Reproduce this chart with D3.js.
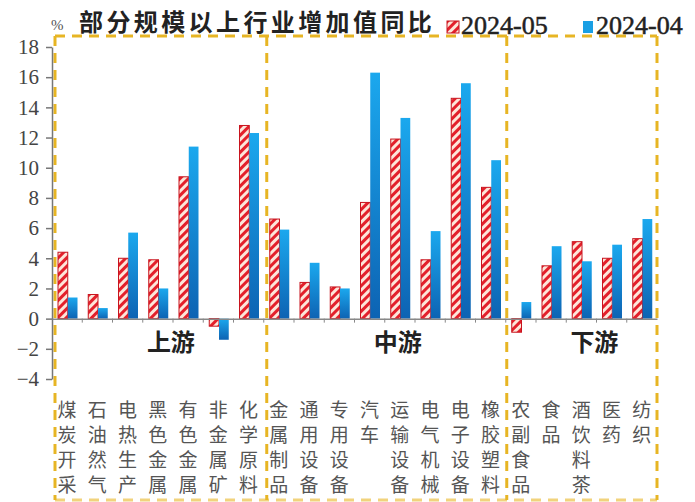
<!DOCTYPE html>
<html>
<head>
<meta charset="utf-8">
<script src="https://cdn.jsdelivr.net/npm/d3@7"></script>
<style>
  html, body { margin: 0; padding: 0; background: #fff; }
  svg { display: block; }
</style>
</head>
<body>
<svg id="chart" width="695" height="502"></svg>
<script>
// Industry names (one character per row when drawn)
const categories = [
  "煤炭开采", "石油天然气", "电热生产", "黑色金属", "有色金属", "非金属矿", "化学原料",
  "金属制品", "通用设备", "专用设备", "汽车", "运输设备", "电气机械", "电子设备", "橡胶塑料",
  "农副食品", "食品", "酒饮料茶", "医药", "纺织"
];
// Short column labels as printed under each industry
const labels = [
  "煤炭开采", "石油然气", "电热生产", "黑色金属", "有色金属", "非金属矿", "化学原料",
  "金属制品", "通用设备", "专用设备", "汽车", "运输设备", "电气机械", "电子设备", "橡胶塑料",
  "农副食品", "食品", "酒饮料茶", "医药", "纺织"
];
const seriesNames = ["2024-05", "2024-04"];
const may = [4.4, 1.6, 4.0, 3.9, 9.4, -0.5, 12.8,
             6.6, 2.4, 2.1, 7.7, 11.9, 3.9, 14.6, 8.7,
             -0.9, 3.5, 5.1, 4.0, 5.3];
const april = [1.4, 0.7, 5.7, 2.0, 11.4, -1.4, 12.3,
               5.9, 3.7, 2.0, 16.3, 13.3, 5.8, 15.6, 10.5,
               1.1, 4.8, 3.8, 4.9, 6.6];
const groups = ["上游", "中游", "下游"];
const groupStart = [0, 7, 15];
const groupEnd = [6, 14, 19];
const yTicks = [-4, -2, 0, 2, 4, 6, 8, 10, 12, 14, 16, 18];

const svg = d3.select("#chart");
const defs = svg.append("defs");

// Red/white diagonal hatching for the May series
const pat = defs.append("pattern")
  .attr("id", "hatch")
  .attr("patternUnits", "userSpaceOnUse")
  .attr("width", 6).attr("height", 6)
  .attr("patternTransform", "rotate(45)");
pat.append("rect").attr("width", 6).attr("height", 6).attr("fill", "#fde6da");
pat.append("rect").attr("width", 3).attr("height", 6).attr("fill", "#e3202b");

// Blue vertical gradient for the April series
const grad = defs.append("linearGradient")
  .attr("id", "blueGrad")
  .attr("x1", 0).attr("y1", 0).attr("x2", 0).attr("y2", 1);
grad.append("stop").attr("offset", "0%").attr("stop-color", "#1ba8ee");
grad.append("stop").attr("offset", "100%").attr("stop-color", "#0d63b3");

const plotLeft = 52, plotRight = 657, plotTop = 47, plotBottom = 379;

const x = d3.scaleBand().domain(categories).range([plotLeft, plotRight]).padding(0);
const x1 = d3.scaleBand().domain(seriesNames).range([6, 25.5]).padding(0);
const y = d3.scaleLinear().domain([-4, 18]).range([plotBottom, plotTop]);

const gold = "#e7b524";

// Dashed group frames
const frameTop = 36, frameBottom = 500;
const frameX = [55, x(categories[7]) + 3, x(categories[15]) + 1, plotRight];
const frames = svg.append("g")
  .attr("fill", "none")
  .attr("stroke", gold)
  .attr("stroke-width", 3)
  .attr("stroke-dasharray", "10,7");
frames.append("line").attr("x1", frameX[0]).attr("x2", frameX[3])
  .attr("y1", frameTop).attr("y2", frameTop);
frames.append("line").attr("x1", frameX[0]).attr("x2", frameX[3])
  .attr("y1", frameBottom).attr("y2", frameBottom).attr("stroke-opacity", 0.6);
frameX.forEach(fx => {
  frames.append("line").attr("x1", fx).attr("x2", fx)
    .attr("y1", frameTop).attr("y2", frameBottom);
});

// Y axis
const yAxis = svg.append("g")
  .attr("transform", `translate(${plotLeft},0)`)
  .call(d3.axisLeft(y).tickValues(yTicks).tickSize(6).tickPadding(7).tickSizeOuter(0));
yAxis.select(".domain").attr("stroke", "#777").attr("stroke-width", 1.5);
yAxis.selectAll(".tick line").attr("stroke", "#777").attr("stroke-width", 1.5);
yAxis.selectAll(".tick text")
  .attr("fill", "#444")
  .style("font-family", "'Liberation Serif', 'DejaVu Serif', serif")
  .style("font-size", "21px");

// Bars
const bars = svg.append("g");
categories.forEach((c, i) => {
  const vr = may[i], vb = april[i];
  bars.append("rect")
    .attr("x", x(c) + x1("2024-05"))
    .attr("y", y(Math.max(0, vr)))
    .attr("width", x1.bandwidth())
    .attr("height", Math.abs(y(vr) - y(0)))
    .attr("fill", "url(#hatch)")
    .attr("stroke", "#c8141e")
    .attr("stroke-width", 1);
  bars.append("rect")
    .attr("x", x(c) + x1("2024-04"))
    .attr("y", y(Math.max(0, vb)))
    .attr("width", x1.bandwidth())
    .attr("height", Math.abs(y(vb) - y(0)))
    .attr("fill", "url(#blueGrad)");
});

// Zero baseline with category separators
const xAxis = svg.append("g")
  .attr("transform", `translate(0,${y(0)})`)
  .call(d3.axisBottom(x).tickValues([]).tickSizeOuter(0));
xAxis.select(".domain").attr("stroke", "#888").attr("stroke-width", 1.5);
const sep = svg.append("g").attr("stroke", "#888").attr("stroke-width", 1);
categories.forEach((c, i) => {
  if (i === 0) return;
  sep.append("line").attr("x1", x(c)).attr("x2", x(c))
    .attr("y1", y(0)).attr("y2", y(0) + 4);
});

// Vertical category labels
const lab = svg.append("g")
  .attr("fill", "#555")
  .style("font-family", "'Noto Sans CJK SC', sans-serif")
  .style("font-size", "19px")
  .attr("text-anchor", "middle");
labels.forEach((name, i) => {
  Array.from(name).forEach((ch, k) => {
    lab.append("text")
      .attr("x", x(categories[i]) + x.bandwidth() / 2)
      .attr("y", 417 + k * 25)
      .text(ch);
  });
});

// Group labels
groups.forEach((g, i) => {
  const cx = (x(categories[groupStart[i]]) + x(categories[groupEnd[i]]) + x.bandwidth()) / 2 + 13;
  svg.append("text")
    .attr("x", cx).attr("y", 351)
    .attr("text-anchor", "middle")
    .attr("fill", "#222")
    .style("font-family", "'Noto Sans CJK SC', sans-serif")
    .style("font-weight", "bold")
    .style("font-size", "24px")
    .text(g);
});

// Unit and title
svg.append("text")
  .attr("x", 51).attr("y", 30)
  .attr("fill", "#555")
  .style("font-family", "'Liberation Serif', serif")
  .style("font-size", "15px")
  .text("%");
svg.append("text")
  .attr("x", 79).attr("y", 31)
  .attr("fill", "#222")
  .style("font-family", "'Noto Sans CJK SC', sans-serif")
  .style("font-weight", "bold")
  .style("font-size", "24px")
  .style("letter-spacing", "3.4px")
  .text("部分规模以上行业增加值同比");

// Legend
const legendFont = "'Liberation Serif', serif";
svg.append("rect")
  .attr("x", 447).attr("y", 21).attr("width", 12).attr("height", 12)
  .attr("fill", "url(#hatch)").attr("stroke", "#c8141e").attr("stroke-width", 1);
svg.append("text")
  .attr("x", 461).attr("y", 34)
  .attr("fill", "#222").attr("stroke", "#222").attr("stroke-width", 0.5)
  .style("font-family", legendFont)
  .style("font-size", "26px")
  .text(seriesNames[0]);
svg.append("rect")
  .attr("x", 583).attr("y", 21).attr("width", 10).attr("height", 12)
  .attr("fill", "#1a9fe4");
svg.append("text")
  .attr("x", 596).attr("y", 34)
  .attr("fill", "#222").attr("stroke", "#222").attr("stroke-width", 0.5)
  .style("font-family", legendFont)
  .style("font-size", "26px")
  .text(seriesNames[1]);
</script>
</body>
</html>
